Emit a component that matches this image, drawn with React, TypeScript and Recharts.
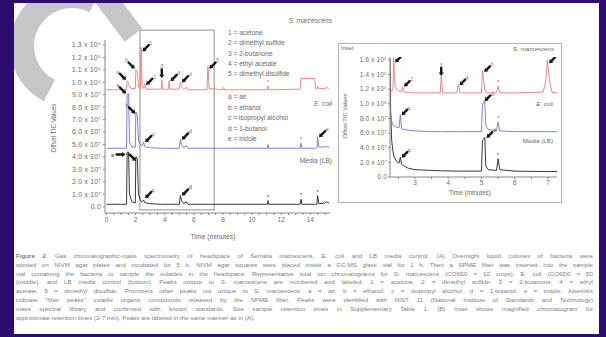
import { ComposedChart, Line, Scatter, XAxis, YAxis, ReferenceArea } from 'recharts';

// main chromatogram, values in units of 1e7 (offset TIC)
const mainTime = [0, 1.2, 1.38, 1.42, 1.52, 1.58, 1.75, 1.98, 2.02, 2.12, 2.2, 2.33, 2.38, 2.44, 2.55, 2.62, 2.72, 3.0, 3.76, 3.8, 3.85, 4.26, 4.3, 4.36, 5.0, 5.08, 5.15, 5.3, 5.5, 5.6, 6.9, 6.97, 7.05, 8.0, 8.05, 8.1, 11.05, 11.1, 11.15, 13.3, 13.36, 13.42, 14.3, 14.36, 14.45, 14.5, 14.58, 15.0, 15.1, 15.3];
const mainMedia = [0.2, 0.2, 0.2, 4.3, 4.4, 1.0, 0.4, 0.3, 4.0, 3.9, 1.0, 0.5, 0.45, 0.4, 0.55, 0.35, 0.3, 0.25, 0.2, 0.2, 0.2, 0.2, 0.2, 0.2, 0.2, 0.9, 0.5, 0.25, 0.4, 0.2, 0.2, 0.2, 0.2, 0.2, 0.2, 0.2, 0.2, 0.5, 0.2, 0.2, 0.6, 0.2, 0.2, 0.2, 0.2, 0.9, 0.25, 0.3, 0.4, 0.3];
const mainEcoli = [4.7, 4.7, 4.7, 9.0, 9.1, 5.2, 4.8, 4.8, 7.6, 7.3, 5.3, 5.0, 4.95, 4.9, 5.2, 4.85, 4.8, 4.75, 4.7, 4.7, 4.7, 4.7, 4.7, 4.7, 4.7, 5.4, 5.0, 4.75, 4.9, 4.7, 4.7, 4.7, 4.7, 4.7, 4.7, 4.7, 4.7, 5.0, 4.7, 4.7, 5.1, 4.7, 4.7, 4.7, 4.75, 5.6, 4.8, 4.8, 4.85, 4.75];
const mainSerratia = [9.4, 9.4, 9.4, 10.1, 10.0, 9.6, 9.5, 9.5, 11.0, 10.8, 9.6, 9.5, 12.8, 9.7, 9.5, 9.9, 9.45, 9.45, 9.45, 10.2, 9.45, 9.45, 10.1, 9.45, 9.45, 10.0, 9.6, 9.45, 9.6, 9.4, 9.4, 11.3, 9.5, 9.4, 9.6, 9.4, 9.4, 9.7, 9.4, 9.45, 10.3, 10.3, 10.3, 9.5, 9.45, 9.7, 9.5, 9.5, 9.6, 9.5];
const mainTicksY = [0, 1, 2, 3, 4, 5, 6, 7, 8, 9, 10, 11, 12, 13];
const mainTicksX = [0, 0.5, 1, 1.5, 2, 2.5, 3, 3.5, 4, 4.5, 5, 5.5, 6, 6.5, 7, 7.5, 8, 8.5, 9, 9.5, 10, 10.5, 11, 11.5, 12, 12.5, 13, 13.5, 14, 14.5, 15];

// peak markers on the main chart
const mainMarkT = [1.42, 2.02, 2.4, 2.65, 3.8, 4.32, 5.1, 6.99, 1.42, 2.05, 2.58, 5.1, 14.52, 1.42, 2.1, 2.58, 5.1, 11.1, 13.36, 14.5, 13.36, 11.1];
const mainMarkV = [10.1, 11.0, 12.4, 9.7, 10.2, 10.0, 9.9, 11.0, 9.0, 7.4, 5.1, 5.3, 5.5, 4.2, 3.6, 0.6, 0.8, 0.5, 0.6, 0.9, 5.1, 9.7];
const mainMarkLabel = ['a', 'b', '1', '2', '3', '4', 'd', '5', 'a', 'b', 'c', 'd', 'e', 'a', 'b', 'c', 'd', '*', '*', '*', '*', '*'];
const mainMarkDir = ['dr', 'dr', 'dl', 'dl', 'd', 'dl', 'dl', 'dl', 'dr', 'dr', 'dl', 'dl', 'dl', 'r', 'dr', 'dl', 'dl', 'n', 'n', 'n', 'n', 'n'];
const mainMarkSeries = ['s', 's', 's', 's', 's', 's', 's', 's', 'e', 'e', 'e', 'e', 'e', 'm', 'm', 'm', 'm', 'm', 'm', 'm', 'e', 's'];

// inset (2-7 min)
const insetTime = [2.25, 2.27, 2.3, 2.34, 2.36, 2.4, 2.46, 2.52, 2.56, 2.6, 2.63, 2.67, 2.8, 3.0, 3.5, 3.76, 3.79, 3.83, 4.26, 4.3, 4.36, 5.0, 5.03, 5.1, 5.13, 5.2, 5.45, 5.5, 5.55, 6.0, 6.85, 6.93, 6.98, 7.05, 7.12, 7.27];
const insetMedia = [16.2, 9.0, 5.0, 3.5, 3.0, 2.5, 2.1, 1.9, 2.7, 1.7, 1.6, 1.5, 1.2, 1.0, 0.9, 0.85, 0.85, 0.85, 0.8, 0.8, 0.8, 0.8, 5.0, 5.4, 1.5, 1.0, 0.9, 2.5, 1.0, 0.8, 0.75, 0.75, 0.75, 0.75, 0.75, 0.75];
const insetEcoli = [9.5, 8.6, 7.6, 7.1, 7.0, 6.9, 6.8, 6.7, 8.5, 6.6, 6.55, 6.5, 6.4, 6.3, 6.2, 6.2, 6.2, 6.2, 6.2, 6.2, 6.2, 6.2, 10.0, 10.4, 7.0, 6.5, 6.3, 7.5, 6.3, 6.2, 6.2, 6.2, 6.2, 6.2, 6.2, 6.2];
const insetSerratia = [11.6, 11.6, 11.7, 12.2, 16.3, 12.4, 11.9, 11.7, 11.7, 11.7, 12.3, 11.6, 11.55, 11.5, 11.5, 11.5, 13.8, 11.5, 11.5, 12.6, 11.5, 11.5, 14.5, 12.0, 11.6, 11.5, 11.5, 12.4, 11.5, 11.5, 11.6, 13.0, 16.0, 13.0, 11.6, 11.5];
const insetTicksY = [0, 2, 4, 6, 8, 10, 12, 14, 16];
const insetTicksX = [2.5, 3, 3.5, 4, 4.5, 5, 5.5, 6, 6.5, 7];

const insetMarkT = [2.37, 2.64, 3.79, 4.31, 5.05, 7.0, 2.57, 5.06, 2.57, 5.12, 5.5, 5.5, 5.5];
const insetMarkV = [15.5, 12.2, 13.6, 12.4, 14.2, 15.4, 8.3, 10.2, 2.5, 5.2, 12.4, 7.5, 2.5];
const insetMarkLabel = ['1', '2', '3', '4', 'd', '5', 'c', 'd', 'c', 'd', '*', '*', '*'];
const insetMarkDir = ['dl', 'dl', 'd', 'dl', 'dl', 'dl', 'dl', 'dl', 'dl', 'dl', 'n', 'n', 'n'];
const insetMarkSeries = ['s', 's', 's', 's', 's', 's', 'e', 'e', 'm', 'm', 's', 'e', 'm'];

const legendNumbers = ['1 = acetone', '2 = dimethyl sulfide', '3 = 2-butanone', '4 = ethyl acetate', '5 = dimethyl disulfide'];
const legendLetters = ['a = air', 'b = ethanol', 'c = isopropyl alcohol', 'd = 1-butanol', 'e = indole'];

const caption = [
  'Gas chromatographic-mass spectrometry of headspace of Serratia marcescens, E. coli and LB media control. (A) Overnight liquid cultures of bacteria were',
  'spotted on NIVM agar plates and incubated for 5 h. NIVM agar squares were placed inside a GC-MS glass vial for 1 h. Then a SPME fiber was inserted into the sample',
  'vial containing the bacteria to sample the volatiles in the headspace. Representative total ion chromatograms for S. marcescens (CO6S0 = 10 cmps), E. coli (CO6D0 = 50',
  '(middle), and LB media control (bottom). Peaks unique to S. marcescens are numbered and labeled: 1 = acetone, 2 = dimethyl sulfide, 3 = 2-butanone, 4 = ethyl',
  'acetate, 5 = dimethyl disulfide. Prominent other peaks not unique to S. marcescens: a = air; b = ethanol; c = isopropyl alcohol; d = 1-butanol; e = indole. Asterisks',
  'indicate "fiber peaks" volatile organic compounds released by the SPME fiber. Peaks were identified with NIST 11 (National Institute of Standards and Technology)',
  'mass spectral library and confirmed with known standards. See sample retention times in Supplementary Table 1. (B) Inset shows magnified chromatogram for',
  'approximate retention times (2-7 min). Peaks are labeled in the same manner as in (A).',
];

const COLORS: Record<string, string> = { s: '#ee7a7a', e: '#7272d8', m: '#222222' };
const LABEL_COLORS: Record<string, string> = { s: '#e05a5a', e: '#5a5ac8', m: '#444444' };
const FONT = '"Liberation Sans", Arial, sans-serif';

const mainRows = mainTime.map((t, i) => ({ t, media: mainMedia[i], ecoli: mainEcoli[i], serratia: mainSerratia[i] }));
const insetRows = insetTime.map((t, i) => ({ t, media: insetMedia[i], ecoli: insetEcoli[i], serratia: insetSerratia[i] }));
const mainMarks = mainMarkT.map((t, i) => ({ t, v: mainMarkV[i], label: mainMarkLabel[i], dir: mainMarkDir[i], s: mainMarkSeries[i] }));
const insetMarks = insetMarkT.map((t, i) => ({ t, v: insetMarkV[i], label: insetMarkLabel[i], dir: insetMarkDir[i], s: insetMarkSeries[i] }));

const fmtTic = (v: number) => {
  if (v === 0) return '0.0';
  if (v < 10) return `${v.toFixed(1)} x 10⁷`;
  return `${(v / 10).toFixed(1)} x 10⁸`;
};

const YTick = (props: any) => {
  const { x, y, payload, size = 5.8 } = props;
  return (
    <text x={x} y={y} dy={2.3} textAnchor="end" fontSize={size} fill="#6a6a6a" fontFamily={FONT} letterSpacing={0.25}>
      {fmtTic(payload.value)}
    </text>
  );
};

const Marker = (props: any) => {
  const { cx, cy, payload, len = 10 } = props;
  if (cx == null || cy == null) return null;
  const col = LABEL_COLORS[payload.s];
  const dirs: Record<string, number[]> = { dl: [0.7, -0.7], dr: [-0.7, -0.7], d: [0, -1], r: [-1, 0] };
  const vec = dirs[payload.dir];
  if (!vec) {
    return (
      <text x={cx} y={cy - 2} fontSize={6} textAnchor="middle" fill={col} fontFamily={FONT}>
        {payload.label}
      </text>
    );
  }
  const [ux, uy] = vec;
  const tipX = cx + ux * 1.5;
  const tipY = cy + uy * 1.5;
  const hx = tipX + ux * 3.5;
  const hy = tipY + uy * 3.5;
  const tailX = tipX + ux * len;
  const tailY = tipY + uy * len;
  const px = -uy;
  const py = ux;
  const lx = tailX + ux * 3 + (payload.dir === 'r' ? -1 : 0);
  const ly = tailY + uy * 3 + 2;
  return (
    <g>
      <line x1={tailX} y1={tailY} x2={hx} y2={hy} stroke="#151515" strokeWidth={2.4} strokeLinecap="round" />
      <polygon points={`${tipX},${tipY} ${hx + px * 2.5},${hy + py * 2.5} ${hx - px * 2.5},${hy - py * 2.5}`} fill="#151515" />
      <text x={lx} y={ly} fontSize={5.5} textAnchor="middle" fill={col} fontFamily={FONT}>
        {payload.label}
      </text>
    </g>
  );
};

const tickStyle = { fontSize: 6.5, fill: '#6a6a6a', fontFamily: FONT };

const MainChart = () => (
  <ComposedChart width={340} height={250} data={mainRows} margin={{ top: 40, right: 10, bottom: 23, left: 55 }}>
    <XAxis
      dataKey="t"
      type="number"
      domain={[-0.1, 15.35]}
      ticks={mainTicksX}
      tickFormatter={(v: number) => (v % 2 === 0 ? String(v) : '')}
      interval={0}
      height={14}
      tick={tickStyle}
      tickSize={2}
      tickMargin={2}
      stroke="#888"
      allowDataOverflow
    />
    <YAxis
      type="number"
      domain={[-0.5, 13.4]}
      ticks={mainTicksY}
      interval={0}
      width={50}
      tick={(p: any) => <YTick {...p} size={6.8} />}
      tickSize={2}
      tickMargin={2}
      stroke="#888"
      allowDataOverflow
    />
    <ReferenceArea x1={2.3} x2={7.4} y1={-0.25} y2={14.2} ifOverflow="visible" fill="none" stroke="#a8a8a8" strokeWidth={1.3} />
    <Line dataKey="media" stroke={COLORS.m} strokeWidth={0.9} dot={false} isAnimationActive={false} type="linear" />
    <Line dataKey="ecoli" stroke={COLORS.e} strokeWidth={0.9} dot={false} isAnimationActive={false} type="linear" />
    <Line dataKey="serratia" stroke={COLORS.s} strokeWidth={0.9} dot={false} isAnimationActive={false} type="linear" />
    <Scatter data={mainMarks} dataKey="v" isAnimationActive={false} shape={(p: any) => <Marker {...p} len={9} />} />
  </ComposedChart>
);

const InsetChart = () => (
  <ComposedChart width={224} height={160} data={insetRows} margin={{ top: 14, right: 5, bottom: 14, left: 12 }}>
    <XAxis
      dataKey="t"
      type="number"
      domain={[2.25, 7.27]}
      ticks={insetTicksX}
      tickFormatter={(v: number) => (Number.isInteger(v) ? String(v) : '')}
      interval={0}
      height={12}
      tick={tickStyle}
      tickSize={2}
      tickMargin={1}
      stroke="#888"
      allowDataOverflow
    />
    <YAxis
      type="number"
      domain={[0, 16.4]}
      ticks={insetTicksY}
      interval={0}
      width={40}
      tick={(p: any) => <YTick {...p} size={6.3} />}
      tickSize={2}
      tickMargin={1}
      stroke="#888"
      allowDataOverflow
    />
    <Line dataKey="media" stroke={COLORS.m} strokeWidth={0.9} dot={false} isAnimationActive={false} type="linear" />
    <Line dataKey="ecoli" stroke={COLORS.e} strokeWidth={0.9} dot={false} isAnimationActive={false} type="linear" />
    <Line dataKey="serratia" stroke={COLORS.s} strokeWidth={0.9} dot={false} isAnimationActive={false} type="linear" />
    <Scatter data={insetMarks} dataKey="v" isAnimationActive={false} shape={(p: any) => <Marker {...p} len={8} />} />
  </ComposedChart>
);

export default function App() {
  const txt = { fontSize: 6.6, fill: '#6a6a6a', fontFamily: FONT };
  const grey = '#c6c6c6';
  return (
    <div style={{ position: 'absolute', left: 0, top: 0, width: 606, height: 337, background: '#2c0c6c', overflow: 'hidden', fontFamily: FONT }}>
      <div style={{ position: 'absolute', left: 14, top: 3, width: 585, height: 331, background: '#fff' }} />
      <div style={{ position: 'absolute', left: 0, top: 0 }}>
        <MainChart />
      </div>
      <div style={{ position: 'absolute', left: 338, top: 43, width: 224, height: 160, boxSizing: 'border-box', border: '1px solid #b4b4b4' }} />
      <div style={{ position: 'absolute', left: 338, top: 43 }}>
        <InsetChart />
      </div>
      <svg width={606} height={337} style={{ position: 'absolute', left: 0, top: 0, pointerEvents: 'none' }}>
        {/* main chart texts */}
        <text x={332} y={23} textAnchor="end" fontStyle="italic" {...txt}>S. marcescens</text>
        {legendNumbers.map((s, i) => (
          <text key={s} x={228} y={35 + i * 10.3} {...txt}>{s}</text>
        ))}
        {legendLetters.map((s, i) => (
          <text key={s} x={228} y={99 + i * 10.6} {...txt}>{s}</text>
        ))}
        <text x={332} y={106} textAnchor="end" fontStyle="italic" {...txt}>E. coli</text>
        <text x={332} y={163} textAnchor="end" {...txt}>Media (LB)</text>
        <text x={213} y={239} textAnchor="middle" {...txt} fontSize={6.8}>Time (minutes)</text>
        <text transform="translate(56,128) rotate(-90)" textAnchor="middle" {...txt} fontSize={6.3}>Offset TIC Values</text>
        {/* inset texts */}
        <text x={341} y={50} {...txt} fontSize={5.8}>Inset</text>
        <text x={554} y={51} textAnchor="end" fontStyle="italic" {...txt} fontSize={6.2}>S. marcescens</text>
        <text x={553} y={106} textAnchor="end" fontStyle="italic" {...txt} fontSize={6.2}>E. coli</text>
        <text x={553} y={143} textAnchor="end" {...txt} fontSize={6.2}>Media (LB)</text>
        <text x={470} y={195} textAnchor="middle" {...txt} fontSize={6.3}>Time (minutes)</text>
        <text transform="translate(347,116) rotate(-90)" textAnchor="middle" {...txt} fontSize={5.8}>Offset TIC Values</text>
      </svg>
      {/* watermark shapes, clipped to the white panel */}
      <div style={{ position: 'absolute', left: 14, top: 3, width: 585, height: 331, overflow: 'hidden', pointerEvents: 'none' }}>
        <div
          style={{
            position: 'absolute',
            left: 72 - 62 - 14,
            top: 46 - 62 - 3,
            width: 124,
            height: 124,
            boxSizing: 'border-box',
            borderRadius: '50%',
            border: `24px solid transparent`,
            borderLeftColor: grey,
            borderBottomColor: grey,
            transform: 'rotate(72deg)',
          }}
        />
        <div
          style={{
            position: 'absolute',
            left: 117 - 30 - 14,
            top: 12 - 11 - 3,
            width: 58,
            height: 22,
            background: grey,
            transform: 'rotate(53deg)',
          }}
        />
      </div>
      <div style={{ position: 'absolute', left: 16, top: 252, width: 577, fontSize: 6.2, lineHeight: '8.8px', color: '#808080' }}>
        {caption.map((line, i) => (
          <div
            key={i}
            style={{ textAlign: 'justify', textAlignLast: i < caption.length - 1 ? 'justify' : 'left', whiteSpace: 'nowrap', overflow: 'hidden' }}
          >
            {i === 0 && <b>Figure 2. </b>}
            {line}
          </div>
        ))}
      </div>
    </div>
  );
}
